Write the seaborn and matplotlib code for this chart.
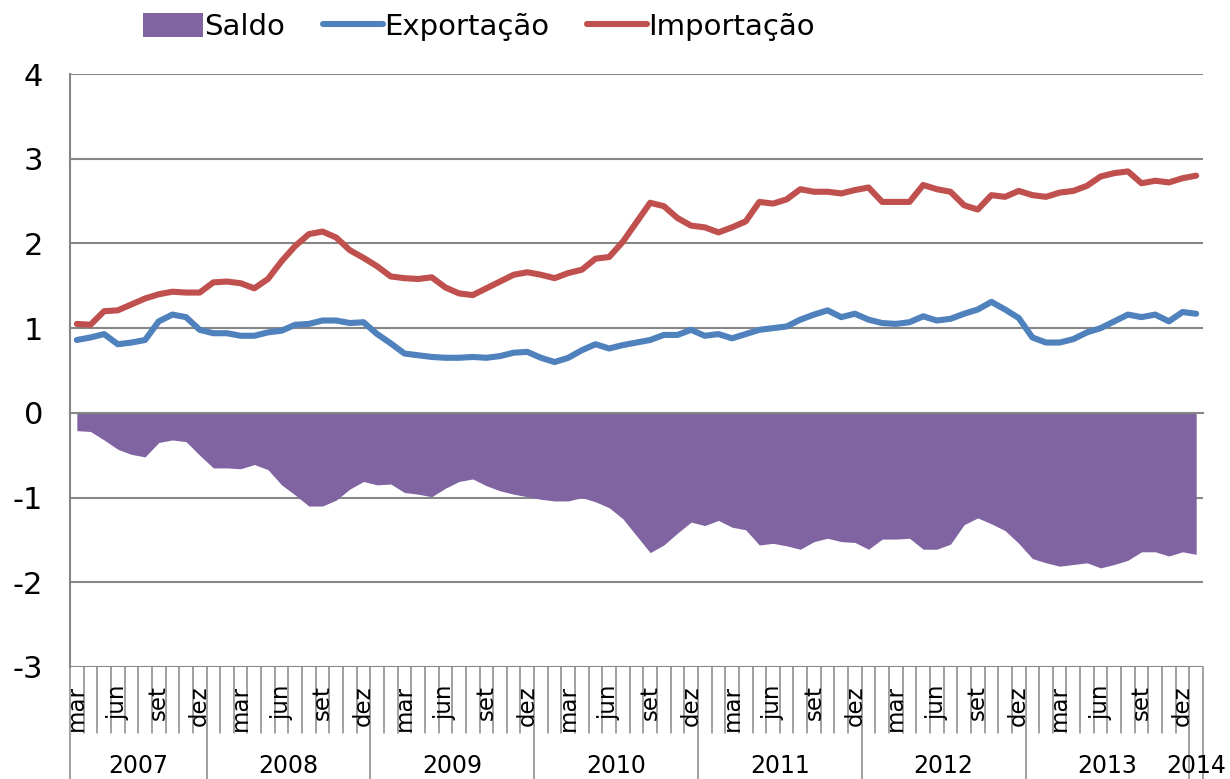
import matplotlib
matplotlib.use("Agg")
import matplotlib.pyplot as plt
import matplotlib.transforms as mtransforms
from matplotlib.patches import Patch
from matplotlib.lines import Line2D
import seaborn as sns
import pandas as pd
import numpy as np

# series mensais, mar/2007 a jan/2014
meses = ["jan", "fev", "mar", "abr", "mai", "jun", "jul", "ago", "set", "out", "nov", "dez"]
ano_inicial = 2007
mes_inicial = 2  # mar

saldo = [-0.21, -0.22, -0.32, -0.43, -0.49, -0.52, -0.35, -0.32, -0.34, -0.50,
         -0.65, -0.65, -0.66, -0.61, -0.67, -0.85, -0.97, -1.10, -1.10, -1.03, -0.90, -0.81,
         -0.85, -0.84, -0.94, -0.96, -0.99, -0.89, -0.81, -0.78, -0.86, -0.92, -0.96, -0.99,
         -1.02, -1.04, -1.04, -1.00, -1.05, -1.12, -1.25, -1.45, -1.65, -1.56, -1.42, -1.29,
         -1.33, -1.27, -1.35, -1.38, -1.56, -1.54, -1.57, -1.61, -1.52, -1.48, -1.52, -1.53,
         -1.61, -1.49, -1.49, -1.48, -1.61, -1.61, -1.55, -1.32, -1.24, -1.31, -1.39, -1.54,
         -1.72, -1.77, -1.81, -1.79, -1.77, -1.83, -1.79, -1.74, -1.64, -1.64, -1.69, -1.64,
         -1.67]

exportacao = [0.86, 0.89, 0.93, 0.81, 0.83, 0.86, 1.08, 1.16, 1.13, 0.98,
              0.94, 0.94, 0.91, 0.91, 0.95, 0.97, 1.04, 1.05, 1.09, 1.09, 1.06, 1.07,
              0.93, 0.82, 0.70, 0.68, 0.66, 0.65, 0.65, 0.66, 0.65, 0.67, 0.71, 0.72,
              0.65, 0.60, 0.65, 0.74, 0.81, 0.76, 0.80, 0.83, 0.86, 0.92, 0.92, 0.98,
              0.91, 0.93, 0.88, 0.93, 0.98, 1.00, 1.02, 1.10, 1.16, 1.21, 1.13, 1.17,
              1.10, 1.06, 1.05, 1.07, 1.14, 1.09, 1.11, 1.17, 1.22, 1.31, 1.22, 1.12,
              0.89, 0.83, 0.83, 0.87, 0.95, 1.00, 1.08, 1.16, 1.13, 1.16, 1.08, 1.19,
              1.17]

importacao = [1.05, 1.04, 1.20, 1.21, 1.28, 1.35, 1.40, 1.43, 1.42, 1.42,
              1.54, 1.55, 1.53, 1.47, 1.58, 1.79, 1.97, 2.11, 2.14, 2.07, 1.92, 1.83,
              1.73, 1.61, 1.59, 1.58, 1.60, 1.48, 1.41, 1.39, 1.47, 1.55, 1.63, 1.66,
              1.63, 1.59, 1.65, 1.69, 1.82, 1.84, 2.02, 2.25, 2.48, 2.44, 2.30, 2.21,
              2.19, 2.13, 2.19, 2.26, 2.49, 2.47, 2.52, 2.64, 2.61, 2.61, 2.59, 2.63,
              2.66, 2.49, 2.49, 2.49, 2.69, 2.64, 2.61, 2.45, 2.40, 2.57, 2.55, 2.62,
              2.57, 2.55, 2.60, 2.62, 2.68, 2.79, 2.83, 2.85, 2.71, 2.74, 2.72, 2.77,
              2.80]

meses_rotulados = ["mar", "jun", "set", "dez"]

roxo = "#8064A2"
azul = "#4F81BD"
vermelho = "#C0504D"
cinza = "#868686"

n = len(saldo)
idx = np.arange(n)
mes = [meses[(mes_inicial + i) % 12] for i in idx]
ano = [str(ano_inicial + (mes_inicial + i) // 12) for i in idx]
df = pd.DataFrame({"idx": idx, "mes": mes, "ano": ano,
                   "Saldo": saldo, "Exportação": exportacao, "Importação": importacao})

sns.set_style("white")
plt.rcParams["font.family"] = ["DejaVu Sans"]
plt.rcParams["axes.unicode_minus"] = False
plt.rcParams["text.color"] = "black"

W, H = 1230, 779
fig = plt.figure(figsize=(W / 100, H / 100), dpi=100)
ax_l, ax_r, ax_t, ax_b = 70, 1203, 74, 667
ax = fig.add_axes([ax_l / W, 1 - ax_b / H, (ax_r - ax_l) / W, (ax_b - ax_t) / H])
ax_h = ax_b - ax_t

for y in range(-3, 5):
    if y != 0:
        ax.axhline(y, color=cinza, lw=1.5, zorder=0.5)

ax.fill_between(df["idx"], 0, df["Saldo"], color=roxo, linewidth=0, zorder=1)
sns.lineplot(data=df, x="idx", y="Exportação", color=azul, lw=4.4, ax=ax, zorder=3,
             solid_capstyle="round", solid_joinstyle="round", legend=False)
sns.lineplot(data=df, x="idx", y="Importação", color=vermelho, lw=4.4, ax=ax, zorder=3,
             solid_capstyle="round", solid_joinstyle="round", legend=False)

ax.set_xlim(-0.5, n - 0.5)
ax.set_ylim(-3, 4)
ax.set_xlabel("")
ax.set_ylabel("")
ax.set_yticks(range(-3, 5))
ax.set_xticks(np.arange(-0.5, n, 1))

for s in ["top", "right"]:
    ax.spines[s].set_visible(False)
ax.spines["bottom"].set_position(("data", 0))
ax.spines["bottom"].set_color(cinza)
ax.spines["bottom"].set_linewidth(1.5)
ax.spines["left"].set_color(cinza)
ax.spines["left"].set_linewidth(1.5)
ax.tick_params(axis="x", length=5.8, width=1.2, color=cinza, labelbottom=False, direction="out")
ax.tick_params(axis="y", length=7.2, width=1.5, color=cinza, labelsize=22, pad=12,
               direction="out", labelcolor="black")

# eixo de categorias em dois niveis abaixo do grafico
trans = mtransforms.blended_transform_factory(ax.transData, ax.transAxes)
sep_mes = -66 / ax_h
sep_ano = -(H - ax_b) / ax_h
inicio_ano = [i for i in idx if mes[i] == "jan"]
for b in np.arange(-0.5, n, 1):
    fundo = sep_ano if (b == -0.5 or b == n - 0.5 or (b + 0.5) in inicio_ano) else sep_mes
    ax.plot([b, b], [0, fundo], transform=trans, clip_on=False, color=cinza, lw=1.1)

for i in idx:
    if mes[i] in meses_rotulados:
        ax.text(i, -18 / ax_h, mes[i], rotation=90, ha="center", va="top",
                transform=trans, fontsize=16.5, color="black")

for a, grp in df.groupby("ano"):
    ax.text(grp["idx"].mean(), -(766 - ax_b) / ax_h, a, ha="center", va="center",
            transform=trans, fontsize=17, color="black")

handles = [Patch(facecolor=roxo, edgecolor="none"),
           Line2D([], [], color=azul, lw=4.4, solid_capstyle="round"),
           Line2D([], [], color=vermelho, lw=4.4, solid_capstyle="round")]
leg = fig.legend(handles, ["Saldo", "Exportação", "Importação"], loc="center left",
                 bbox_to_anchor=(143 / W, 1 - 27 / H), ncol=3, frameon=False, fontsize=21,
                 handlelength=2.05, handleheight=0.85, handletextpad=0.05, columnspacing=1.3,
                 borderpad=0, borderaxespad=0)
for t in leg.get_texts():
    t.set_color("black")

fig.savefig("out.png", dpi=100)
